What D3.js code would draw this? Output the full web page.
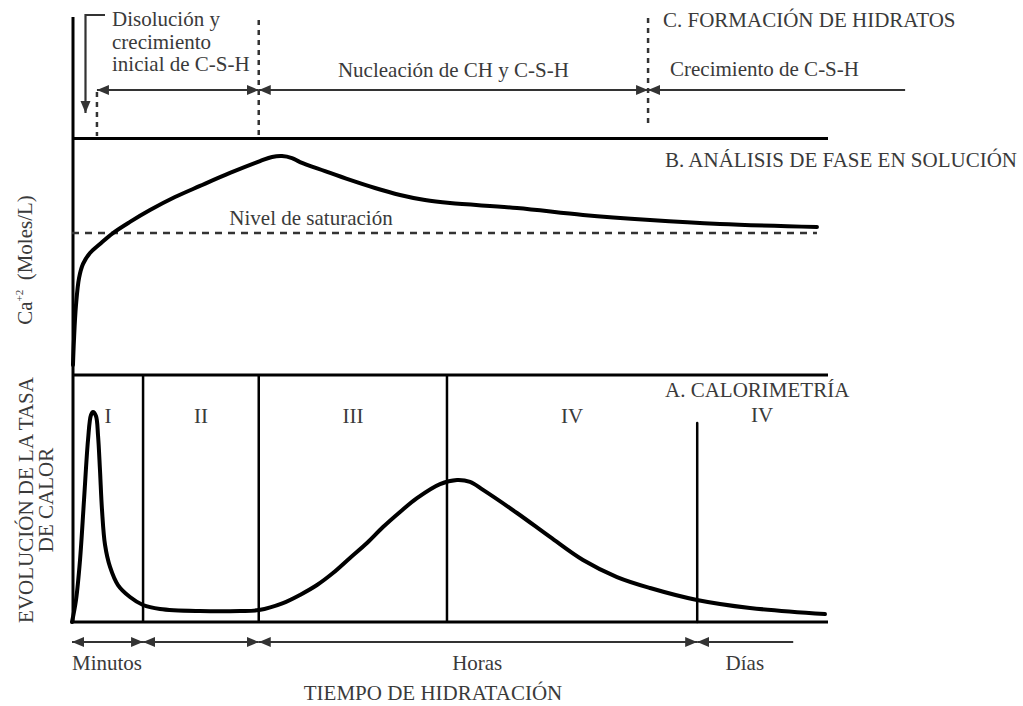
<!DOCTYPE html>
<html><head><meta charset="utf-8">
<script src="https://cdn.jsdelivr.net/npm/d3@7"></script>
<style>
html,body{margin:0;padding:0;background:#fff;}
</style></head>
<body>
<svg id="chart" width="1023" height="706"></svg>
<script>
// ---- DATA ----
// relative hydration time (0..100 across the plotted panels)
const caX = [0.13,0.26,0.53,0.93,1.46,2.38,3.70,5.42,7.67,10.32,13.62,16.93,20.90,24.87,26.46,27.78,29.10,30.16,33.47,36.77,40.08,43.39,46.69,50.0,58.86,67.59,76.46,85.71,98.54];
const caY = [3.0,13.8,28.9,40.5,46.6,51.3,55.2,59.9,64.7,69.8,75.4,80.2,85.8,90.9,92.7,93.1,92.2,90.5,86.6,82.8,79.3,76.3,74.1,72.8,70.7,67.7,65.5,63.8,62.5];
const saturationLevel = 59.9;

const heatX = [0,0.53,1.06,1.59,2.12,2.51,2.78,3.17,3.44,3.70,3.97,4.37,5.03,6.08,7.67,9.39,11.64,16.93,22.22,24.74,27.91,30.16,32.41,34.52,36.77,39.02,41.14,43.39,45.63,48.68,50.93,52.65,54.37,58.86,63.23,67.59,72.09,76.46,82.67,89.68,99.60];
const heatY = [0,10.5,29.5,58.1,86.7,98.6,100,98.1,89.0,72.4,53.3,36.7,26.2,17.6,11.9,8.1,6.2,5.2,5.2,5.7,9.0,12.9,17.6,23.3,30.5,37.6,45.2,52.4,59.0,65.7,67.6,66.7,62.9,51.9,40.5,29.5,21.4,16.2,10.5,6.7,3.8];

const phaseBounds = [9.4, 24.7, 49.6];
const lateBound = 82.7;          // starts lower in the panel
const lateBoundTop = 94.8;       // heat units
const phaseLabels = ["I","II","III","IV","IV"];
const phaseLabelX = [4.76, 17.06, 37.17, 66.14, 91.27];

const hydrateBounds = [3.3, 24.7, 76.2];
const hydrateEnd = 110.2;
const hydrateLabels = ["Nucleación de CH y C-S-H", "Crecimiento de C-S-H"];
const hydrateFirstLabel = ["Disolución y", "crecimiento", "inicial de C-S-H"];

const timeBounds = [0, 9.4, 24.7, 82.7, 95.4];
const timeLabels = ["Minutos", "Horas", "Días"];
const timeLabelX = [0, 53.6, 89.0];

const sectionTitles = ["C. FORMACIÓN DE HIDRATOS", "B. ANÁLISIS DE FASE EN SOLUCIÓN", "A. CALORIMETRÍA"];
const axisTitle = "TIEMPO DE HIDRATACIÓN";

// ---- LAYOUT ----
const FONT = "'Liberation Serif'";
const TXT = "#3a3a3a";
const svg = d3.select("#chart");
const x = d3.scaleLinear().domain([0,100]).range([72,828]);
const yCa = d3.scaleLinear().domain([0,100]).range([372,140]);
const yHeat = d3.scaleLinear().domain([0,100]).range([622,412]);
const topLineY = 138.5, midLineY = 375, baseY = 622;
const arrowY = 90, timeArrowY = 642;
const grey = "#333";

function txt(sel){
  return sel.style("font-family",FONT).style("font-size","21px").attr("fill",TXT);
}

const defs = svg.append("defs");
defs.append("marker").attr("id","ah").attr("viewBox","0 0 12 12")
  .attr("refX",12).attr("refY",6).attr("markerWidth",12).attr("markerHeight",12)
  .attr("markerUnits","userSpaceOnUse").attr("orient","auto-start-reverse")
  .append("path").attr("d","M0,1 L12,6 L0,11 Z").attr("fill",grey);

// left axis
svg.append("line").attr("x1",73).attr("x2",73).attr("y1",17).attr("y2",baseY)
  .attr("stroke","#000").attr("stroke-width",3);

// horizontal panel lines
[topLineY, midLineY, baseY].forEach(yy=>{
  svg.append("line").attr("x1",x(0)).attr("x2",x(100)).attr("y1",yy).attr("y2",yy)
    .attr("stroke","#000").attr("stroke-width",3);
});

// ---- C section ----
svg.selectAll(".hb").data(hydrateBounds).enter().append("line")
  .attr("x1",d=>x(d)).attr("x2",d=>x(d))
  .attr("y1",(d,i)=> i===0 ? 92 : (i===1 ? 20 : 18))
  .attr("y2",(d,i)=> i===2 ? 128 : 136)
  .attr("stroke",grey).attr("stroke-width",2.5).attr("stroke-dasharray","5,5");

// down arrow bracket
svg.append("path").attr("d",`M105,15 L85.5,15 L85.5,113`).attr("fill","none")
  .attr("stroke",grey).attr("stroke-width",2.2).attr("marker-end","url(#ah)");

// stage arrows
for(let i=0;i<hydrateBounds.length;i++){
  const a = hydrateBounds[i], b = i<hydrateBounds.length-1 ? hydrateBounds[i+1] : hydrateEnd;
  const ln = svg.append("line").attr("x1",x(a)).attr("x2",x(b)).attr("y1",arrowY).attr("y2",arrowY)
    .attr("stroke",grey).attr("stroke-width",2.2).attr("marker-start","url(#ah)");
  if(i<hydrateBounds.length-1) ln.attr("marker-end","url(#ah)");
}
const t1 = txt(svg.append("text").attr("x",112).attr("y",26));
hydrateFirstLabel.forEach((s,i)=> t1.append("tspan").attr("x",112).attr("y",26+22.5*i).text(s));
txt(svg.append("text").attr("x",x((hydrateBounds[1]+hydrateBounds[2])/2)).attr("y",77)
  .attr("text-anchor","middle")).text(hydrateLabels[0]);
txt(svg.append("text").attr("x",670).attr("y",76)).text(hydrateLabels[1]);
txt(svg.append("text").attr("x",663).attr("y",27)).text(sectionTitles[0]);

// ---- B section ----
txt(svg.append("text").attr("x",665).attr("y",167)).text(sectionTitles[1]);
svg.append("line").attr("x1",x(0)).attr("x2",x(98.54)).attr("y1",yCa(saturationLevel)).attr("y2",yCa(saturationLevel))
  .attr("stroke",grey).attr("stroke-width",2.5).attr("stroke-dasharray","7,6");
txt(svg.append("text").attr("x",311).attr("y",225).attr("text-anchor","middle")).text("Nivel de saturación");

const caLine = d3.line().x((d,i)=>x(caX[i])).y((d,i)=>yCa(caY[i])).curve(d3.curveCatmullRom.alpha(0.5));
svg.append("path").attr("d",caLine(caX)).attr("fill","none").attr("stroke","#000")
  .attr("stroke-width",4).attr("stroke-linecap","round").attr("stroke-linejoin","round");

const caLab = txt(svg.append("text").attr("transform","translate(32,260) rotate(-90)")
  .attr("text-anchor","middle"));
caLab.append("tspan").text("Ca");
caLab.append("tspan").attr("dy",-9).style("font-size","11px").text("+2");
caLab.append("tspan").attr("dy",9).text("\u2009 (Moles/L)");

// ---- A section ----
txt(svg.append("text").attr("x",665).attr("y",397)).text(sectionTitles[2]);
svg.selectAll(".pb").data(phaseBounds).enter().append("line")
  .attr("x1",d=>x(d)).attr("x2",d=>x(d)).attr("y1",midLineY).attr("y2",baseY)
  .attr("stroke","#000").attr("stroke-width",2.5);
svg.append("line").attr("x1",x(lateBound)).attr("x2",x(lateBound)).attr("y1",yHeat(lateBoundTop)).attr("y2",baseY)
  .attr("stroke","#000").attr("stroke-width",2.5).attr("stroke-linecap","round");
txt(svg.selectAll(".pl").data(phaseLabels).enter().append("text")
  .attr("x",(d,i)=>x(phaseLabelX[i])).attr("y",(d,i)=> i===4 ? 422 : 423)
  .attr("text-anchor","middle")).text(d=>d);

const heatLine = d3.line().x((d,i)=>x(heatX[i])).y((d,i)=>yHeat(heatY[i])).curve(d3.curveCatmullRom.alpha(0.5));
svg.append("path").attr("d",heatLine(heatX)).attr("fill","none").attr("stroke","#000")
  .attr("stroke-width",4).attr("stroke-linecap","round").attr("stroke-linejoin","round");

const hl = txt(svg.append("text").attr("transform","translate(33,500) rotate(-90)")
  .attr("text-anchor","middle"));
hl.append("tspan").attr("x",0).attr("y",0).text("EVOLUCIÓN DE LA TASA");
hl.append("tspan").attr("x",0).attr("y",20).text("DE CALOR");

// ---- time axis ----
for(let i=0;i<timeBounds.length-1;i++){
  const ln = svg.append("line").attr("x1",x(timeBounds[i])).attr("x2",x(timeBounds[i+1]))
    .attr("y1",timeArrowY).attr("y2",timeArrowY).attr("stroke",grey).attr("stroke-width",2.2)
    .attr("marker-start","url(#ah)");
  if(i<timeBounds.length-2) ln.attr("marker-end","url(#ah)");
}
txt(svg.selectAll(".tl").data(timeLabels).enter().append("text")
  .attr("x",(d,i)=>x(timeLabelX[i])).attr("y",670)
  .attr("text-anchor",(d,i)=> i===0 ? "start" : "middle")).text(d=>d);
txt(svg.append("text").attr("x",433).attr("y",700).attr("text-anchor","middle")).text(axisTitle);
</script>
</body></html>
